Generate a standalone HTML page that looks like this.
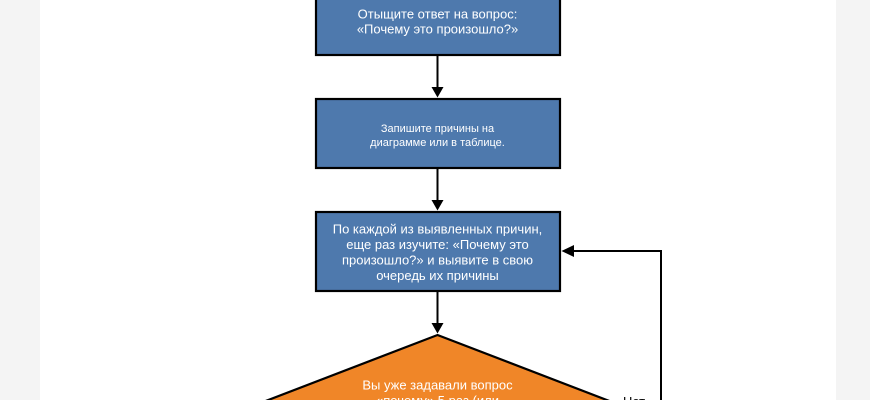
<!DOCTYPE html>
<html>
<head>
<meta charset="utf-8">
<style>
  html, body { margin: 0; padding: 0; }
  body { width: 870px; height: 400px; overflow: hidden; background: #f4f4f4; }
  svg { display: block; overflow: hidden; }
  text { font-family: "Liberation Sans", "DejaVu Sans", sans-serif; }
</style>
</head>
<body>
<svg width="870" height="400" viewBox="0 0 870 400" xmlns="http://www.w3.org/2000/svg">
  <defs>
    <clipPath id="c"><rect x="0" y="0" width="870" height="400"/></clipPath>
  </defs>
  <g clip-path="url(#c)">
  <rect x="0" y="0" width="870" height="400" fill="#f4f4f4"/>
  <rect x="40" y="0" width="796" height="400" fill="#ffffff"/>

  <!-- Box 1 -->
  <rect x="316" y="-30" width="244" height="85" fill="#4e79ad" stroke="#000" stroke-width="2.2"/>
  <text x="437.5" y="18.5" font-size="13" fill="#fff" text-anchor="middle">Отыщите ответ на вопрос:</text>
  <text x="437.5" y="33.5" font-size="13" fill="#fff" text-anchor="middle">«Почему это произошло?»</text>

  <!-- Arrow 1 -->
  <line x1="437.5" y1="56" x2="437.5" y2="88" stroke="#000" stroke-width="2"/>
  <polygon points="431.5,87 443.5,87 437.5,97.5" fill="#000"/>

  <!-- Box 2 -->
  <rect x="316" y="99" width="244" height="69" fill="#4e79ad" stroke="#000" stroke-width="2.2"/>
  <text x="437.5" y="132" font-size="11" fill="#fff" text-anchor="middle">Запишите причины на</text>
  <text x="437.5" y="146" font-size="11" fill="#fff" text-anchor="middle">диаграмме или в таблице.</text>

  <!-- Arrow 2 -->
  <line x1="437.5" y1="169" x2="437.5" y2="201" stroke="#000" stroke-width="2"/>
  <polygon points="431.5,200 443.5,200 437.5,210.5" fill="#000"/>

  <!-- Box 3 -->
  <rect x="316" y="212" width="244" height="79" fill="#4e79ad" stroke="#000" stroke-width="2.2"/>
  <text x="437.5" y="233.5" font-size="13" fill="#fff" text-anchor="middle">По каждой из выявленных причин,</text>
  <text x="437.5" y="249" font-size="13" fill="#fff" text-anchor="middle">еще раз изучите: «Почему это</text>
  <text x="437.5" y="264.5" font-size="13" fill="#fff" text-anchor="middle">произошло?» и выявите в свою</text>
  <text x="437.5" y="280" font-size="13" fill="#fff" text-anchor="middle">очередь их причины</text>

  <!-- Arrow 3 -->
  <line x1="437.5" y1="292" x2="437.5" y2="324" stroke="#000" stroke-width="2"/>
  <polygon points="431.5,323 443.5,323 437.5,333.5" fill="#000"/>

  <!-- Diamond -->
  <polygon points="437.5,335 651,417 437.5,500 224,417" fill="#f08628" stroke="#000" stroke-width="2.2" stroke-linejoin="miter"/>
  <text x="437.5" y="389.5" font-size="13" fill="#fff" text-anchor="middle">Вы уже задавали вопрос</text>
  <text x="437.5" y="405" font-size="13" fill="#fff" text-anchor="middle">«почему» 5 раз (или</text>

  <!-- Feedback loop -->
  <polyline points="661,420 661,251 573,251" fill="none" stroke="#000" stroke-width="2"/>
  <polygon points="574,245 574,257 561.5,251" fill="#000"/>
  <text x="623" y="406" font-size="13" fill="#000">Нет</text>
  </g>
</svg>
</body>
</html>
